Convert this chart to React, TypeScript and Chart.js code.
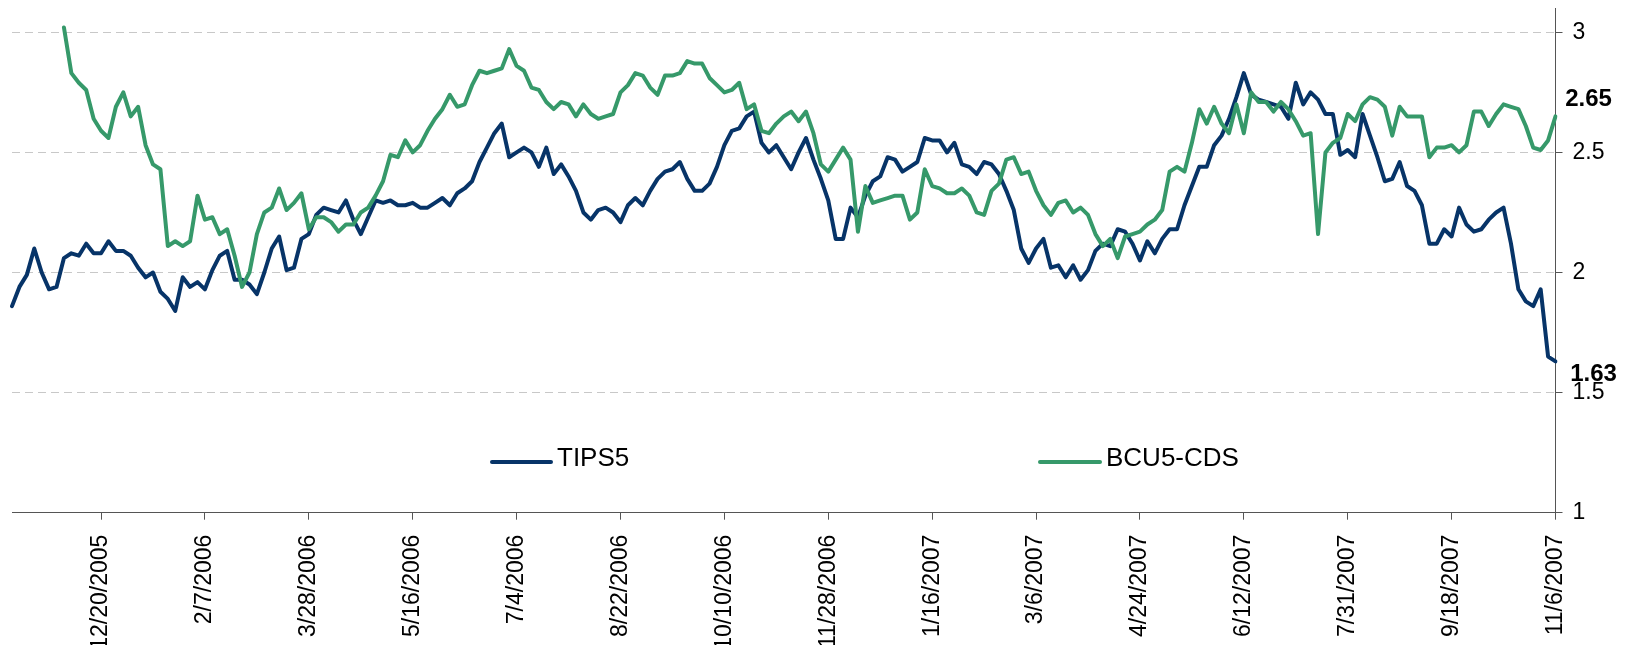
import React, { useEffect, useRef } from 'react';
import { Chart, registerables } from 'chart.js';

Chart.register(...registerables);

const SERIES_NAMES = ['TIPS5', 'BCU5-CDS'];

const TICK_LABELS = [
  '12/20/2005', '2/7/2006', '3/28/2006', '5/16/2006', '7/4/2006', '8/22/2006',
  '10/10/2006', '11/28/2006', '1/16/2007', '3/6/2007', '4/24/2007', '6/12/2007',
  '7/31/2007', '9/18/2007', '11/6/2007',
];

const Y_TICKS = [1, 1.5, 2, 2.5, 3];

// Twice-weekly observations (Tue / Fri) from 11/8/2005 to 11/6/2007
const TIPS5 = [
  1.86, 1.94, 1.99, 2.10, 2.00, 1.93, 1.94, 2.06, 2.08, 2.07,
  2.12, 2.08, 2.08, 2.13, 2.09, 2.09, 2.07, 2.02, 1.98, 2.00,
  1.92, 1.89, 1.84, 1.98, 1.94, 1.96, 1.93, 2.01, 2.07, 2.09,
  1.97, 1.97, 1.95, 1.91, 2.00, 2.10, 2.15, 2.01, 2.02, 2.14,
  2.16, 2.24, 2.27, 2.26, 2.25, 2.30, 2.22, 2.16, 2.23, 2.30,
  2.29, 2.30, 2.28, 2.28, 2.29, 2.27, 2.27, 2.29, 2.31, 2.28,
  2.33, 2.35, 2.38, 2.46, 2.52, 2.58, 2.62, 2.48, 2.50, 2.52,
  2.50, 2.44, 2.52, 2.41, 2.45, 2.40, 2.34, 2.25, 2.22, 2.26,
  2.27, 2.25, 2.21, 2.28, 2.31, 2.28, 2.34, 2.39, 2.42, 2.43,
  2.46, 2.39, 2.34, 2.34, 2.37, 2.44, 2.53, 2.59, 2.60, 2.65,
  2.67, 2.54, 2.50, 2.53, 2.48, 2.43, 2.50, 2.56, 2.47, 2.39,
  2.30, 2.14, 2.14, 2.27, 2.23, 2.32, 2.38, 2.40, 2.48, 2.47,
  2.42, 2.44, 2.46, 2.56, 2.55, 2.55, 2.50, 2.54, 2.45, 2.44,
  2.41, 2.46, 2.45, 2.41, 2.34, 2.26, 2.10, 2.04, 2.10, 2.14,
  2.02, 2.03, 1.98, 2.03, 1.97, 2.01, 2.09, 2.12, 2.11, 2.18,
  2.17, 2.12, 2.05, 2.13, 2.08, 2.14, 2.18, 2.18, 2.28, 2.36,
  2.44, 2.44, 2.53, 2.57, 2.64, 2.73, 2.83, 2.74, 2.72, 2.71,
  2.70, 2.69, 2.64, 2.79, 2.70, 2.75, 2.72, 2.66, 2.66, 2.49,
  2.51, 2.48, 2.66, 2.57, 2.48, 2.38, 2.39, 2.46, 2.36, 2.34,
  2.28, 2.12, 2.12, 2.18, 2.15, 2.27, 2.20, 2.17, 2.18, 2.22,
  2.25, 2.27, 2.12, 1.93, 1.88, 1.86, 1.93, 1.65, 1.63,
];

const BCU5_CDS = [
  null, null, null, null, null, null, null, 3.02, 2.83, 2.79,
  2.76, 2.64, 2.59, 2.56, 2.69, 2.75, 2.65, 2.69, 2.53, 2.45,
  2.43, 2.11, 2.13, 2.11, 2.13, 2.32, 2.22, 2.23, 2.16, 2.18,
  2.07, 1.94, 2.00, 2.16, 2.25, 2.27, 2.35, 2.26, 2.29, 2.33,
  2.18, 2.23, 2.23, 2.21, 2.17, 2.20, 2.20, 2.25, 2.27, 2.32,
  2.38, 2.49, 2.48, 2.55, 2.50, 2.53, 2.59, 2.64, 2.68, 2.74,
  2.69, 2.70, 2.78, 2.84, 2.83, 2.84, 2.85, 2.93, 2.86, 2.84,
  2.77, 2.76, 2.71, 2.68, 2.71, 2.70, 2.65, 2.70, 2.66, 2.64,
  2.65, 2.66, 2.75, 2.78, 2.83, 2.82, 2.77, 2.74, 2.82, 2.82,
  2.83, 2.88, 2.87, 2.87, 2.81, 2.78, 2.75, 2.76, 2.79, 2.68,
  2.70, 2.59, 2.58, 2.62, 2.65, 2.67, 2.63, 2.67, 2.58, 2.45,
  2.42, 2.47, 2.52, 2.47, 2.17, 2.36, 2.29, 2.30, 2.31, 2.32,
  2.32, 2.22, 2.25, 2.43, 2.36, 2.35, 2.33, 2.33, 2.35, 2.32,
  2.25, 2.24, 2.34, 2.37, 2.47, 2.48, 2.41, 2.42, 2.34, 2.28,
  2.24, 2.29, 2.30, 2.25, 2.27, 2.24, 2.16, 2.11, 2.14, 2.06,
  2.15, 2.16, 2.17, 2.20, 2.22, 2.26, 2.42, 2.44, 2.42, 2.54,
  2.68, 2.62, 2.69, 2.62, 2.58, 2.70, 2.58, 2.75, 2.71, 2.71,
  2.67, 2.71, 2.68, 2.63, 2.57, 2.58, 2.16, 2.50, 2.54, 2.56,
  2.66, 2.63, 2.70, 2.73, 2.72, 2.69, 2.57, 2.69, 2.65, 2.65,
  2.65, 2.48, 2.52, 2.52, 2.53, 2.50, 2.53, 2.67, 2.67, 2.61,
  2.66, 2.70, 2.69, 2.68, 2.61, 2.52, 2.51, 2.55, 2.65,
];

const START_UTC = Date.UTC(2005, 10, 8);
const DATES = TIPS5.map((_, i) => {
  const days = Math.floor(i / 2) * 7 + (i % 2 === 1 ? 3 : 0);
  const d = new Date(START_UTC + days * 86400000);
  return `${d.getUTCMonth() + 1}/${d.getUTCDate()}/${d.getUTCFullYear()}`;
});

const W = 1634;
const H = 645;
const FONT_FAMILY = "'Liberation Sans', Arial, Helvetica, sans-serif";
const NAVY = '#073468';
const GREEN = '#36996a';
const AXIS_COLOR = '#555555';
const GRID_COLOR = '#c8c8c8';

const overlayPlugin = {
  id: 'overlay',
  afterDatasetsDraw(chart: any) {
    const { ctx } = chart;
    const xs = chart.scales.x;
    const ys = chart.scales.y;
    ctx.save();
    // legend inside plot
    const lineY = 462;
    const textY = 459;
    const items = [
      { name: SERIES_NAMES[0], color: NAVY, x0: 492, x1: 551 },
      { name: SERIES_NAMES[1], color: GREEN, x0: 1040, x1: 1100 },
    ];
    ctx.lineWidth = 4;
    ctx.lineCap = 'round';
    ctx.font = `26px ${FONT_FAMILY}`;
    ctx.textBaseline = 'middle';
    ctx.textAlign = 'left';
    ctx.fillStyle = '#000';
    items.forEach((it) => {
      ctx.strokeStyle = it.color;
      ctx.beginPath();
      ctx.moveTo(it.x0, lineY);
      ctx.lineTo(it.x1, lineY);
      ctx.stroke();
      ctx.fillText(it.name, it.x1 + 6, textY);
    });
    // last value labels
    const last = TIPS5.length - 1;
    const px = xs.getPixelForValue(last);
    ctx.font = `bold 24px ${FONT_FAMILY}`;
    ctx.textAlign = 'center';
    const g = BCU5_CDS[last] as number;
    const t = TIPS5[last];
    ctx.fillText(g.toFixed(2), px + 33, ys.getPixelForValue(g) - 17);
    ctx.fillText(t.toFixed(2), px + 38, ys.getPixelForValue(t) + 13);
    ctx.restore();
  },
};

export default function App() {
  const ref = useRef<HTMLCanvasElement>(null);
  useEffect(() => {
    document.body.style.margin = '0';
    const canvas = ref.current;
    if (!canvas) return;
    const chart = new Chart(canvas, {
      type: 'line',
      data: {
        labels: DATES,
        datasets: [
          {
            label: SERIES_NAMES[0],
            data: TIPS5,
            borderColor: NAVY,
            backgroundColor: NAVY,
            borderWidth: 4,
            pointRadius: 0,
            tension: 0,
            borderJoinStyle: 'round',
            borderCapStyle: 'round',
            order: 2,
          },
          {
            label: SERIES_NAMES[1],
            data: BCU5_CDS,
            borderColor: GREEN,
            backgroundColor: GREEN,
            borderWidth: 4,
            pointRadius: 0,
            tension: 0,
            borderJoinStyle: 'round',
            borderCapStyle: 'round',
            spanGaps: false,
            order: 1,
          },
        ],
      },
      options: {
        responsive: false,
        maintainAspectRatio: false,
        devicePixelRatio: 1,
        animation: false,
        layout: { padding: { left: 12, top: 8.3, right: 0, bottom: 0 } },
        plugins: {
          legend: { display: false },
          tooltip: { enabled: false },
        },
        scales: {
          x: {
            type: 'category',
            offset: false,
            afterBuildTicks: (scale: any) => {
              scale.ticks = scale.ticks.filter((t: any) => TICK_LABELS.includes(DATES[t.value]));
            },
            afterFit: (scale: any) => {
              scale.height = H - 512.7;
              scale.paddingLeft = 0;
              scale.paddingRight = 0;
            },
            grid: {
              display: true,
              drawOnChartArea: false,
              drawTicks: true,
              tickLength: 7,
              tickColor: AXIS_COLOR,
              tickWidth: 1,
            },
            border: { display: true, color: AXIS_COLOR, width: 1 },
            ticks: {
              autoSkip: false,
              maxRotation: 90,
              minRotation: 90,
              padding: 15,
              color: '#000',
              font: { family: FONT_FAMILY, size: 23 },
            },
          },
          y: {
            type: 'linear',
            position: 'right',
            min: 1,
            max: 3.1,
            afterBuildTicks: (scale: any) => {
              scale.ticks = Y_TICKS.map((v) => ({ value: v }));
            },
            afterFit: (scale: any) => {
              scale.width = W - 1555.5;
              scale.paddingTop = 0;
              scale.paddingBottom = 0;
            },
            grid: {
              color: (c: any) => (c.tick && c.tick.value === 1 ? 'rgba(0,0,0,0)' : GRID_COLOR),
              lineWidth: 1,
              drawTicks: true,
              tickLength: 7,
              tickColor: AXIS_COLOR,
              tickWidth: 1,
            },
            border: { display: true, color: AXIS_COLOR, width: 1, dash: [8, 5] },
            ticks: {
              padding: 10,
              color: '#000',
              font: { family: FONT_FAMILY, size: 23 },
              callback: (v: any) => String(v),
            },
          },
        },
      },
      plugins: [overlayPlugin],
    } as any);
    return () => chart.destroy();
  }, []);
  return (
    <div style={{ position: 'absolute', left: 0, top: 0, width: W, height: H }}>
      <canvas ref={ref} width={W} height={H} style={{ width: W, height: H, display: 'block' }} />
    </div>
  );
}
